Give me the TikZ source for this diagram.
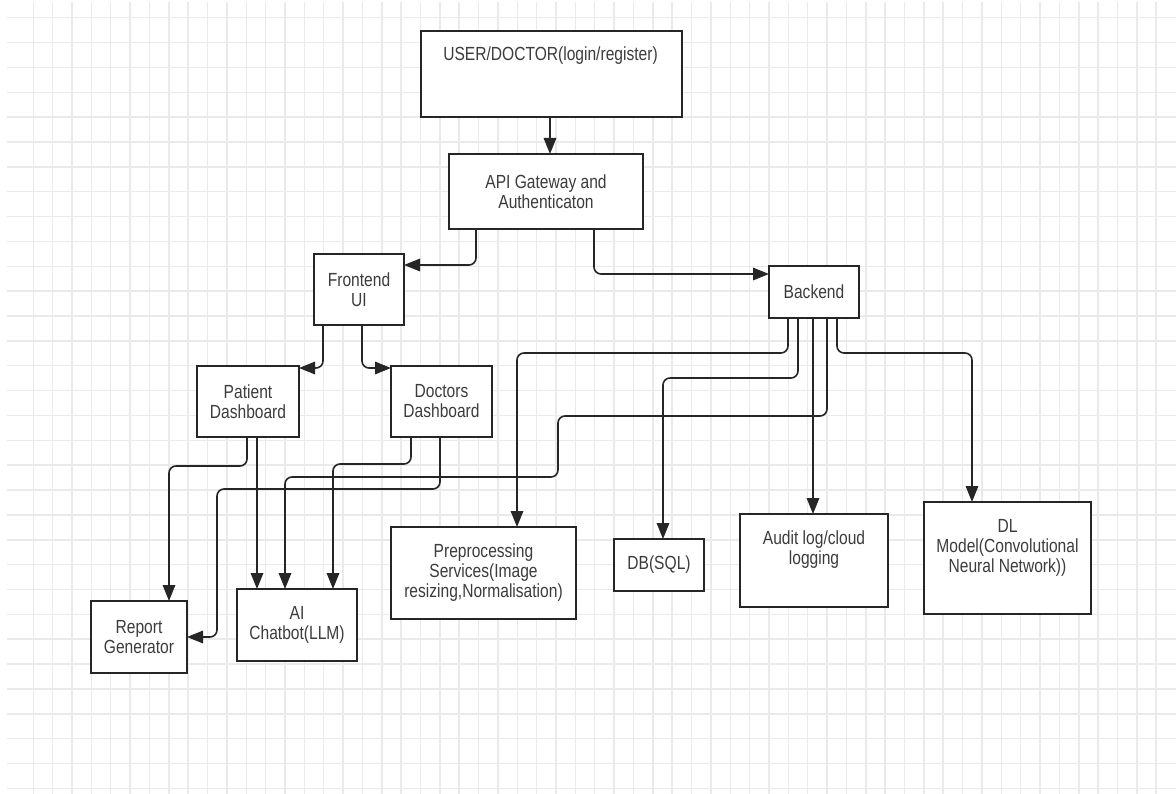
\documentclass[tikz,border=0pt]{standalone}
\usepackage{fontspec}
\setmainfont{Liberation Sans}[FakeStretch=0.82]
\usetikzlibrary{arrows.meta}
\definecolor{gridc}{RGB}{234,234,234}
\definecolor{linec}{RGB}{38,38,38}
\definecolor{textc}{RGB}{60,60,60}
\begin{document}
\begin{tikzpicture}[x=1pt,y=-1pt,
  gridline/.style={draw=gridc,line width=1.5pt},
  box/.style={draw=linec,line width=1.8pt,fill=white,inner sep=0pt,outer sep=0pt,
    align=center,text=textc,font=\fontsize{19}{20}\selectfont},
  txt/.style={inner sep=0pt,align=center,text=textc,font=\fontsize{19}{20}\selectfont},
  arr/.style={draw=linec,line width=1.6pt,rounded corners=7pt,
    -{Triangle[length=16pt,width=12.5pt]}}]
\useasboundingbox (0,0) rectangle (1176,794);
\fill[white] (0,0) rectangle (1176,794);
% grid
\foreach \k in {0,...,58} \draw[gridline] ({33.3+19.36*\k},2) -- ({33.3+19.36*\k},794);
\foreach \j in {0,...,31} \draw[gridline] (7,{17.7+24.86*\j}) -- (1176,{17.7+24.86*\j});
% boxes
\node[box,minimum width=261pt,minimum height=86pt] (user) at (551.5,74) {};
\node[txt] (userT) at (550.5,56) {USER/DOCTOR(login/register)};
\node[box,minimum width=194pt,minimum height=75pt] (api) at (546,191.5) {API Gateway and\\Authenticaton};
\node[box,minimum width=90pt,minimum height=71pt] (frontend) at (359,289.5) {Frontend\\UI};
\node[box,minimum width=90pt,minimum height=52pt] (backend) at (814,292) {Backend};
\node[box,minimum width=102pt,minimum height=71pt] (patient) at (248,401.5) {Patient\\Dashboard};
\node[box,minimum width=101pt,minimum height=71pt] (doctors) at (441.5,401.5) {Doctors\\Dashboard};
\node[box,minimum width=96pt,minimum height=72pt] (report) at (139,637) {Report\\Generator};
\node[box,minimum width=120pt,minimum height=72pt] (ai) at (297,625) {AI\\Chatbot(LLM)};
\node[box,minimum width=185pt,minimum height=92pt] (preproc) at (483.5,573) {Preprocessing\\Services(Image\\resizing,Normalisation)};
\node[box,minimum width=90pt,minimum height=52pt] (db) at (659,565) {DB(SQL)};
\node[box,minimum width=148pt,minimum height=93pt] (audit) at (814,560.5) {};
\node[txt] (auditT) at (814,550) {Audit log/cloud\\logging};
\node[box,minimum width=167pt,minimum height=112pt] (dl) at (1007.5,558) {};
\node[txt] (dlT) at (1007.5,548) {DL\\Model(Convolutional\\Neural Network))};
% connectors
\draw[arr] (user.south -| 550,0) -- (api.north -| 550,0);
\draw[arr] (api.south -| 476,0) |- (frontend.east |- 0,265);
\draw[arr] (api.south -| 594,0) |- (backend.west |- 0,274);
\draw[arr] (frontend.south -| 323,0) |- (patient.east |- 0,368);
\draw[arr] (frontend.south -| 362,0) |- (doctors.west |- 0,368);
\draw[arr] (patient.south -| 247,0) |- (169,466) -- (report.north -| 169,0);
\draw[arr] (patient.south -| 257,0) -- (ai.north -| 257,0);
\draw[arr] (doctors.south -| 411,0) |- (333,464) -- (ai.north -| 333,0);
\draw[arr] (doctors.south -| 440,0) |- (217,489) |- (report.east |- 0,637);
\draw[arr] (backend.south -| 827,0) |- (558,416) |- (285,477) -- (ai.north -| 285,0);
\draw[arr] (backend.south -| 788,0) |- (517,353) -- (preproc.north -| 517,0);
\draw[arr] (backend.south -| 798,0) |- (663,378) -- (db.north -| 663,0);
\draw[arr] (backend.south -| 813,0) -- (audit.north -| 813,0);
\draw[arr] (backend.south -| 837,0) |- (972,353) -- (dl.north -| 972,0);
\end{tikzpicture}
\end{document}
